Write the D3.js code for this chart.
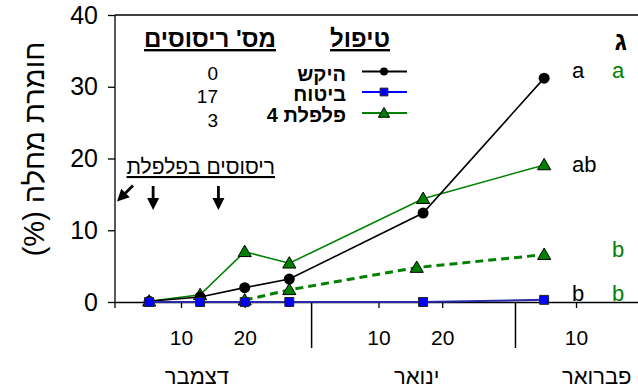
<!DOCTYPE html>
<html>
<head>
<meta charset="utf-8">
<script src="https://cdn.jsdelivr.net/npm/d3@7"></script>
<style>
  html, body { margin: 0; padding: 0; background: #fff; }
  svg { display: block; font-family: "Liberation Sans", Arial, sans-serif; }
</style>
</head>
<body>
<svg id="chart" width="638" height="390"></svg>
<script>
// Disease severity (%) over the season, by treatment
const sampleDates   = ["2000-12-05", "2000-12-13", "2000-12-20", "2000-12-27", "2001-01-17", "2001-02-05"];
const controlValues = [0.1, 0.7, 2.0, 3.2, 12.4, 31.2];   // היקש
const insureValues  = [0.0, 0.0, 0.0, 0.0, 0.0, 0.3];     // ביטוח
const pepperValues  = [0.1, 1.0, 7.0, 5.4, 14.4, 19.1];   // פלפלת 4
const pepperLateDates  = ["2000-12-20", "2000-12-27", "2001-01-16", "2001-02-05"];
const pepperLateValues = [0.25, 1.7, 4.8, 6.6];

const legendNames  = ["היקש", "ביטוח", "פלפלת 4"];
const sprayCounts  = ["0", "17", "3"];
const yTicks       = [0, 10, 20, 30, 40];
const xTickDates   = ["2000-12-10", "2000-12-20", "2001-01-10", "2001-01-20", "2001-02-10"];
const monthNames   = ["דצמבר", "ינואר", "פברואר"];
const monthLabelAt = ["2000-12-12T12:00", "2001-01-16T00:00", "2001-02-13T06:00"];
const monthBreaks  = ["2000-12-30T12:00", "2001-01-31T12:00"];
const sprayDates   = ["2000-12-05T15:00", "2000-12-15T21:00"];
const sigLetters   = [
  { text: "a",  color: "#000",    col: 0, level: 31.2 },
  { text: "a",  color: "#008000", col: 1, level: 31.2 },
  { text: "ab", color: "#000",    col: 0, level: 18.1 },
  { text: "b",  color: "#008000", col: 1, level: 6.3 },
  { text: "b",  color: "#000",    col: 0, level: 0.15 },
  { text: "b",  color: "#008000", col: 1, level: 0.15 }
];

const parseDay  = d3.timeParse("%Y-%m-%d");
const parseHour = d3.timeParse("%Y-%m-%dT%H:%M");
const toDate = s => parseDay(s) || parseHour(s);

const svg = d3.select("#chart");
const GREEN = "#008000", BLUE = "#0000ff";

// time scale: 10-day spacing fixed by Dec 10 .. Feb 10, then extended to the frame
const x = d3.scaleTime()
  .domain([toDate("2000-12-10"), toDate("2001-02-10")])
  .range([181, 576]);
const left = 115, right = 638;
x.domain([x.invert(left), x.invert(right)]).range([left, right]);

const y = d3.scaleLinear().domain([0, 40]).range([302, 15]);

// frame: top line
svg.append("line").attr("x1", left).attr("x2", right).attr("y1", y(40)).attr("y2", y(40))
  .attr("stroke", "#000").attr("stroke-width", 1.3);

// y axis
const yAxis = svg.append("g").attr("transform", `translate(${left},0)`)
  .call(d3.axisLeft(y).tickValues(yTicks).tickSize(7).tickPadding(10).tickSizeOuter(0));
yAxis.select(".domain").remove();
yAxis.append("line").attr("x1", 0).attr("x2", 0).attr("y1", y(40)).attr("y2", 308)
  .attr("stroke", "#000").attr("stroke-width", 1.3);
yAxis.selectAll(".tick line").attr("stroke-width", 1.3);
yAxis.selectAll(".tick text").attr("font-size", 25).attr("fill", "#000")
  .attr("font-family", "Liberation Sans, Arial, sans-serif");

// x axis
const xAxis = svg.append("g").attr("transform", `translate(0,${y(0)})`)
  .call(d3.axisBottom(x).tickValues(xTickDates.map(toDate)).tickFormat(d3.timeFormat("%-d"))
    .tickSize(6).tickPadding(22).tickSizeOuter(0));
xAxis.select(".domain").attr("stroke-width", 1.3);
xAxis.selectAll(".tick line").attr("stroke-width", 1.3);
xAxis.selectAll(".tick text").attr("font-size", 21).attr("fill", "#000")
  .attr("font-family", "Liberation Sans, Arial, sans-serif");

// month separators and names
svg.selectAll(".mbreak").data(monthBreaks).join("line")
  .attr("x1", d => x(toDate(d))).attr("x2", d => x(toDate(d)))
  .attr("y1", y(0)).attr("y2", 348).attr("stroke", "#000").attr("stroke-width", 1.5);
svg.selectAll(".mname").data(monthNames).join("text")
  .attr("x", (d, i) => x(toDate(monthLabelAt[i]))).attr("y", 384)
  .attr("text-anchor", "middle").attr("font-size", 22).text(d => d);

// y title
svg.append("text")
  .attr("transform", "translate(44,149) rotate(-90)")
  .attr("text-anchor", "middle").attr("direction", "rtl")
  .attr("font-size", 29).text("חומרת מחלה (%)");

// series
const line = d3.line().x(d => x(d.date)).y(d => y(d.value));
const zip = (dates, vals) => dates.map((s, i) => ({ date: toDate(s), value: vals[i] }));

const lateData = zip(pepperLateDates, pepperLateValues);
const pepperData = zip(sampleDates, pepperValues);
const controlData = zip(sampleDates, controlValues);
const insureData = zip(sampleDates, insureValues);

function triMarker(size) {
  return sel => sel.append("path").attr("d", d3.symbol().type(d3.symbolTriangle).size(size))
    .attr("transform", "translate(0,1)")
    .attr("fill", GREEN).attr("stroke", "#000").attr("stroke-width", 1);
}
function circMarker(r) {
  return sel => sel.append("circle").attr("r", r).attr("fill", "#000");
}
function sqMarker(size) {
  return sel => sel.append("path").attr("d", d3.symbol().type(d3.symbolSquare).size(size))
    .attr("fill", BLUE).attr("stroke", "#222").attr("stroke-width", 1);
}

function drawSeries(data, color, width, dash, marker) {
  svg.append("path").datum(data).attr("d", line).attr("fill", "none")
    .attr("stroke", color).attr("stroke-width", width)
    .attr("stroke-dasharray", dash || null);
  marker(svg.append("g").selectAll("g").data(data).join("g")
    .attr("transform", d => `translate(${x(d.date)},${y(d.value)})`));
}

drawSeries(lateData, GREEN, 3, "8,5", triMarker(75));
drawSeries(pepperData, GREEN, 1.6, null, triMarker(75));
drawSeries(controlData, "#000", 1.6, null, circMarker(5.5));
drawSeries(insureData, "#2a2aa8", 2, null, sqMarker(80));

// significance letters
const letterCols = [572, 612];
svg.selectAll(".sig").data(sigLetters).join("text")
  .attr("x", d => letterCols[d.col]).attr("y", d => y(d.level))
  .attr("font-size", 22).attr("fill", d => d.color).text(d => d.text);

// panel letter
svg.append("text").attr("x", 627).attr("y", 50).attr("text-anchor", "end")
  .attr("font-size", 26).attr("font-weight", "bold").text("ג");

// legend titles
svg.append("text").attr("x", 390).attr("y", 47).attr("text-anchor", "end")
  .attr("font-size", 24).attr("font-weight", "bold")
  .attr("text-decoration", "underline").text("טיפול");
svg.append("text").attr("x", 276).attr("y", 47).attr("text-anchor", "end")
  .attr("font-size", 24).attr("font-weight", "bold")
  .attr("text-decoration", "underline").text("מס' ריסוסים");

// legend rows
const legendColors = ["#000", BLUE, GREEN];
const legendMarks = [circMarker(4), sqMarker(60), triMarker(55)];
const rowY = [71.5, 92, 113];
const countBase = [80, 103, 127];
legendNames.forEach((name, i) => {
  const g = svg.append("g").attr("transform", `translate(0,${rowY[i]})`);
  g.append("line").attr("x1", 362).attr("x2", 407).attr("stroke", legendColors[i]).attr("stroke-width", 1.8);
  legendMarks[i](g.append("g").attr("transform", "translate(384,0)"));
  g.append("text").attr("x", 346).attr("y", 9).attr("text-anchor", "end")
    .attr("font-size", 20).attr("font-weight", "bold").text(name);
  svg.append("text").attr("x", 218).attr("y", countBase[i]).attr("text-anchor", "end")
    .attr("font-size", 19).text(sprayCounts[i]);
});

// spray annotation
svg.append("text").attr("x", 275).attr("y", 174).attr("text-anchor", "end")
  .attr("font-size", 21).attr("text-decoration", "underline").text("ריסוסים בפלפלת");

const arrowHead = "M-6,0 L6,0 L0,12 Z";
sprayDates.forEach(s => {
  const ax = x(toDate(s));
  svg.append("line").attr("x1", ax).attr("x2", ax).attr("y1", 186).attr("y2", 199)
    .attr("stroke", "#000").attr("stroke-width", 2.8);
  svg.append("path").attr("d", arrowHead).attr("transform", `translate(${ax},198)`).attr("fill", "#000");
});
// earlier spray, before the plotted period
svg.append("line").attr("x1", 133).attr("y1", 185.5).attr("x2", 125).attr("y2", 193.5)
  .attr("stroke", "#000").attr("stroke-width", 2.8);
svg.append("path").attr("d", arrowHead)
  .attr("transform", "translate(125.5,193) rotate(45)").attr("fill", "#000");
</script>
</body>
</html>
